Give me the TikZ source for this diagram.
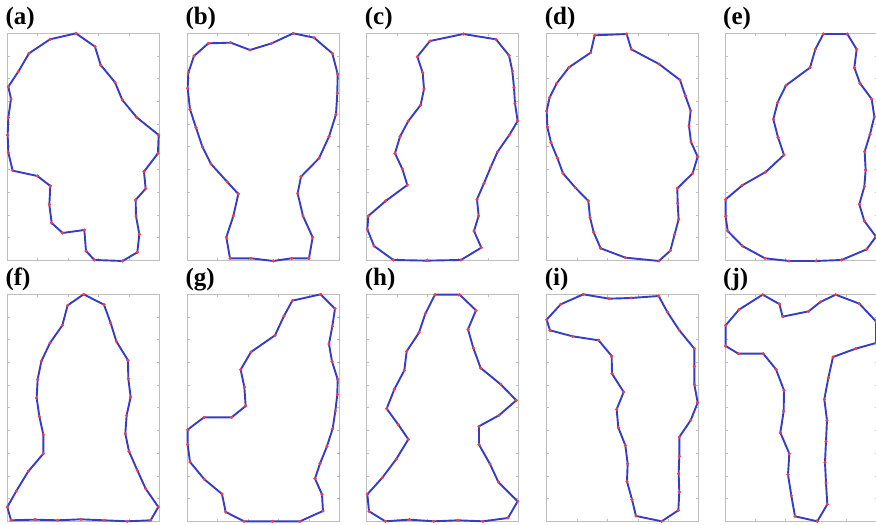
\documentclass[tikz,border=0pt]{standalone}
\usepackage{fontspec}
\setmainfont{Liberation Serif}
\newfontfamily\panelfont{Liberation Serif}
\usepackage{tikz}
\definecolor{shapeblue}{RGB}{55,60,195}
\definecolor{vertexred}{RGB}{250,60,70}
\definecolor{boxgray}{RGB}{190,190,190}

\begin{document}
\begin{tikzpicture}[x=1pt,y=-1pt,
  axbox/.style={draw=boxgray,line width=0.7pt},
  contour/.style={draw=shapeblue,line width=1.9pt,line join=round,
    mark=*,mark size=1.4pt,mark options={color=vertexred,line width=0.4pt}},
  plabel/.style={font=\panelfont\fontsize{25}{25}\selectfont\bfseries,inner sep=0pt,anchor=base west}]
  \useasboundingbox (0,0) rectangle (876,525);
  % axes boxes with ticks and panel letters
  \foreach \px/\py/\name in {7.3/33.3/a,187.3/33.3/b,366.7/33.3/c,546.7/33.3/d,725/33.3/e,
                             7.3/294.3/f,187.3/294.3/g,366.7/294.3/h,546.7/294.3/i,725/294.3/j} {
    \draw[axbox] (\px,\py) rectangle ++(152,227);
    \foreach \i in {1,...,4} {
      \draw[axbox] (\px+30.4*\i,\py) -- ++(0,2.5);
      \draw[axbox] (\px+30.4*\i,\py+227) -- ++(0,-2.5);
    }
    \foreach \j in {1,...,9} {
      \draw[axbox] (\px,\py+22.7*\j) -- ++(2.5,0);
      \draw[axbox] (\px+152,\py+22.7*\j) -- ++(-2.5,0);
    }
    \node[plabel] (lab-\name) at (\px-2,\py-9) {(\name)};
  }
  % (a)
  \begin{scope}[shift={(0,0)},x=0.3333pt,y=-0.3333pt]
    \draw[contour] plot coordinates {(228,100) (285,140) (302,195) (345,247) (367,300) (410,352)
      (476,405) (474,460) (432,515) (437,566) (407,600) (408,648) (418,703) (412,757) (368,783)
      (283,780) (258,753) (253,690) (188,699) (155,669) (148,614) (151,558) (112,528) (38,512)
      (25,458) (23,405) (25,352) (33,297) (25,260) (55,215) (87,160) (150,118)} -- cycle;
  \end{scope}
  % (b)
  \begin{scope}[shift={(175,0)},x=0.3333pt,y=-0.3333pt]
    \draw[contour] plot coordinates {(355,100) (417,113) (472,160) (488,222) (487,280) (483,343)
      (462,410) (432,475) (378,530) (368,580) (384,648) (413,712) (402,775) (350,775) (295,783)
      (228,775) (165,775) (154,712) (175,648) (190,582) (157,546) (108,492) (82,440) (63,383)
      (45,328) (38,265) (40,218) (57,168) (100,130) (167,128) (225,150) (290,130)} -- cycle;
  \end{scope}
  % (c)
  \begin{scope}[shift={(355,0)},x=0.3333pt,y=-0.3333pt]
    \draw[contour] plot coordinates {(325,102) (423,118) (462,166) (472,213) (477,262) (480,310)
      (488,363) (463,405) (428,455) (407,502) (387,550) (366,598) (371,648) (357,693) (379,743)
      (318,780) (215,782) (115,780) (57,738) (37,688) (40,648) (92,603) (157,555) (142,507)
      (120,460) (135,410) (160,363) (197,315) (207,267) (203,218) (187,170) (225,123)} -- cycle;
  \end{scope}
  % (d)
  \begin{scope}[shift={(535,0)},x=0.3333pt,y=-0.3333pt]
    \draw[contour] plot coordinates {(275,102) (289,148) (372,192) (435,240) (451,287) (467,332)
      (462,378) (468,426) (488,470) (473,520) (427,565) (428,610) (431,658) (419,703) (406,752)
      (372,783) (271,773) (197,745) (176,697) (165,652) (160,603) (121,563) (84,520) (67,474)
      (48,428) (37,381) (35,333) (44,292) (65,250) (102,202) (167,158) (179,106)} -- cycle;
  \end{scope}
  % (e)
  \begin{scope}[shift={(710,0)},x=0.3333pt,y=-0.3333pt]
    \draw[contour] plot coordinates {(340,102) (412,102) (440,148) (433,203) (450,250) (485,297)
      (493,350) (480,403) (464,455) (467,510) (463,560) (448,613) (463,663) (498,710) (470,748)
      (395,780) (318,783) (237,783) (165,775) (97,738) (53,693) (47,650) (47,598) (97,556)
      (167,516) (222,465) (204,412) (190,358) (203,307) (228,256) (300,203) (316,148)} -- cycle;
  \end{scope}
  % (f)
  \begin{scope}[shift={(0,262)},x=0.3333pt,y=-0.3333pt]
    \draw[contour] plot coordinates {(251,97) (312,128) (332,183) (349,238) (384,295) (385,350)
      (392,405) (380,460) (376,515) (387,568) (412,625) (437,680) (475,735) (452,775) (382,778)
      (312,775) (243,772) (173,775) (105,773) (33,775) (22,735) (49,687) (85,628) (130,575)
      (130,518) (118,463) (110,408) (113,352) (124,298) (150,243) (187,190) (203,130)} -- cycle;
  \end{scope}
  % (g)
  \begin{scope}[shift={(175,262)},x=0.3333pt,y=-0.3333pt]
    \draw[contour] plot coordinates {(437,97) (480,140) (472,193) (462,246) (471,298) (488,352)
      (487,398) (481,447) (473,500) (456,553) (435,605) (420,650) (441,697) (444,747) (375,778)
      (292,778) (207,778) (152,750) (141,696) (88,652) (45,600) (38,548) (38,503) (87,466)
      (170,466) (212,432) (208,375) (197,323) (228,270) (300,220) (327,162) (352,116)} -- cycle;
  \end{scope}
  % (h)
  \begin{scope}[shift={(355,262)},x=0.3333pt,y=-0.3333pt]
    \draw[contour] plot coordinates {(314,98) (363,145) (339,202) (355,258) (377,318) (437,367)
      (484,415) (432,460) (372,493) (372,548) (405,606) (430,660) (488,718) (459,768) (384,778)
      (309,775) (236,778) (163,773) (91,778) (42,748) (37,697) (82,647) (124,591) (160,532)
      (130,488) (95,440) (118,382) (148,325) (155,268) (192,212) (211,155) (240,98)} -- cycle;
  \end{scope}
  % (i)
  \begin{scope}[shift={(535,262)},x=0.3333pt,y=-0.3333pt]
    \draw[contour] plot coordinates {(145,97) (222,110) (288,108) (371,102) (397,150) (433,205)
      (478,260) (478,313) (478,367) (488,422) (467,475) (433,525) (433,583) (431,635) (433,690)
      (430,745) (380,778) (303,762) (291,713) (276,658) (278,605) (271,550) (250,497) (245,442)
      (266,390) (231,335) (230,282) (191,235) (113,223) (45,205) (35,173) (77,127)} -- cycle;
  \end{scope}
  % (j)
  \begin{scope}[shift={(710,262)},x=0.3333pt,y=-0.3333pt]
    \draw[contour] plot coordinates {(158,98) (208,126) (218,164) (296,148) (331,120) (377,98)
      (448,125) (498,178) (498,243) (437,260) (369,285) (355,348) (343,412) (351,475) (348,538)
      (345,601) (348,663) (352,727) (322,778) (255,763) (244,701) (234,638) (238,575) (211,512)
      (221,448) (222,385) (198,322) (160,275) (85,275) (47,252) (47,190) (87,143)} -- cycle;
  \end{scope}
\end{tikzpicture}
\end{document}
